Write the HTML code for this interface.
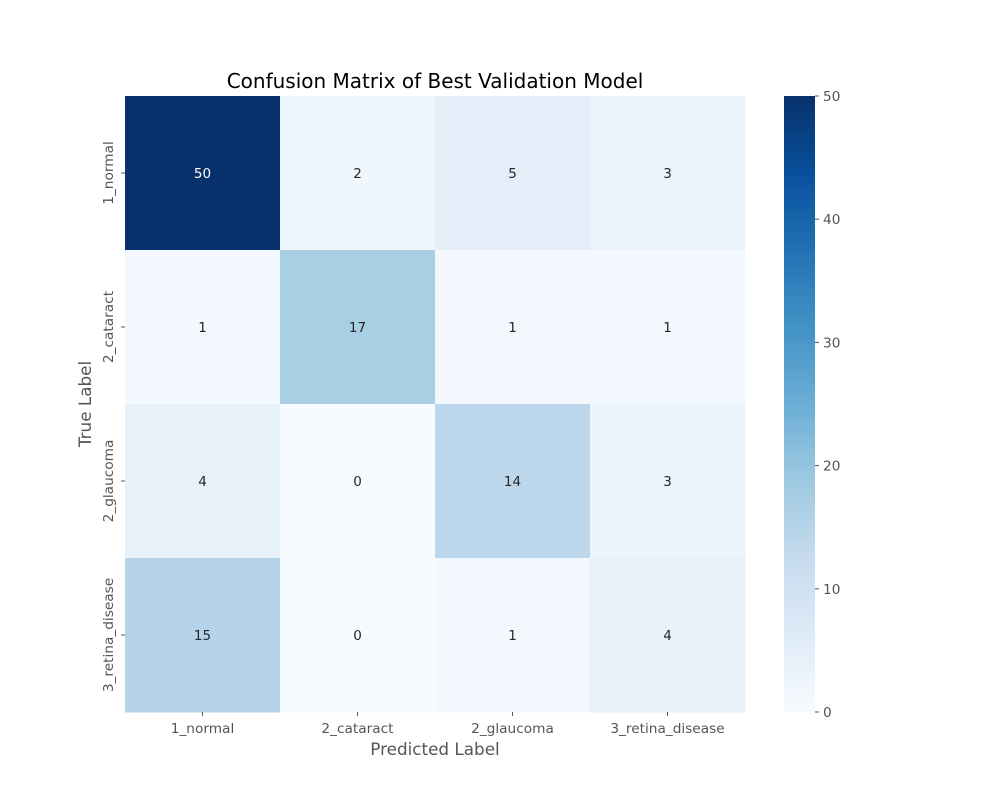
<!DOCTYPE html>
<html><head><meta charset="utf-8"><style>
body{margin:0;background:#fff;}
svg{display:block;font-family:"DejaVu Sans","Liberation Sans",sans-serif;}
</style></head><body>
<svg id="chart" width="1000" height="800">
<text x="435" y="88" text-anchor="middle" font-size="20" fill="#000">Confusion Matrix of Best Validation Model</text>
<text x="435" y="755" text-anchor="middle" font-size="16.8" fill="#555">Predicted Label</text>
<text transform="translate(91,404) rotate(-90)" text-anchor="middle" font-size="16.8" fill="#555">True Label</text>
<defs><linearGradient id="cb" x1="0" y1="1" x2="0" y2="0">
<stop offset="0" stop-color="#f7fbff"/><stop offset="0.125" stop-color="#deebf7"/><stop offset="0.25" stop-color="#c6dbef"/><stop offset="0.375" stop-color="#9ecae1"/><stop offset="0.5" stop-color="#6baed6"/><stop offset="0.625" stop-color="#4292c6"/><stop offset="0.75" stop-color="#2171b5"/><stop offset="0.875" stop-color="#08519c"/><stop offset="1" stop-color="#08306b"/>
</linearGradient></defs>
<rect x="784" y="96" width="31" height="616" fill="url(#cb)"/>
<g id="cells"></g><g id="ticks"></g>
</svg>
<script>
const categories=["1_normal","2_cataract","2_glaucoma","3_retina_disease"];
const row0=[50,2,5,3];
const row1=[1,17,1,1];
const row2=[4,0,14,3];
const row3=[15,0,1,4];
const matrix=[row0,row1,row2,row3];
const cbTicks=[0,10,20,30,40,50];
const vmin=0,vmax=50;
const X0=125,X1=745,Y0=96,Y1=712;
const stops=["#f7fbff","#deebf7","#c6dbef","#9ecae1","#6baed6","#4292c6","#2171b5","#08519c","#08306b"].map(h=>[1,3,5].map(i=>parseInt(h.substr(i,2),16)));
function color(v){let t=Math.max(0,Math.min(1,(v-vmin)/(vmax-vmin)))*8;let i=Math.min(7,Math.floor(t)),f=t-i;const c=stops[i].map((a,k)=>a+(stops[i+1][k]-a)*f);return c;}
const n=categories.length,cw=(X1-X0)/n,ch=(Y1-Y0)/n;
const xs=i=>X0+i*cw, ys=j=>Y0+j*ch;
const cbY=v=>Y1-(v-vmin)/(vmax-vmin)*(Y1-Y0);
const NS="http://www.w3.org/2000/svg";
const g=document.getElementById('cells'),tg=document.getElementById('ticks');
function mk(tag,attrs,par,txt){const e=document.createElementNS(NS,tag);for(const k in attrs)e.setAttribute(k,attrs[k]);if(txt!==undefined)e.textContent=txt;par.appendChild(e);return e;}
matrix.forEach((row,j)=>row.forEach((v,i)=>{
  const c=color(v);
  const r=mk('rect',{x:xs(i),y:ys(j),width:cw+0.5,height:ch+0.5,fill:`rgb(${c.map(Math.round).join(',')})`},g);
  
  
  const lum=(0.299*c[0]+0.587*c[1]+0.114*c[2])/255;
  const t=mk('text',{x:xs(i)+cw/2,y:ys(j)+ch/2+5,'text-anchor':'middle','font-size':13.5,fill:lum<0.5?'#fff':'#262626'},g,String(v));
  
  
}));
categories.forEach((c,i)=>{
  const cx=xs(i)+cw/2;
  mk('line',{x1:cx,x2:cx,y1:Y1,y2:Y1+4,stroke:'#555'},tg);
  const t=mk('text',{x:cx,y:Y1+21,'text-anchor':'middle','font-size':13.7,fill:'#555'},tg,c);
  
  
  const cy=ys(i)+ch/2;
  mk('line',{x1:X0-4,x2:X0,y1:cy,y2:cy,stroke:'#555'},tg);
  const u=mk('text',{transform:`translate(${X0-12},${cy}) rotate(-90)`,'text-anchor':'middle','font-size':13.7,fill:'#555'},tg,c);
  
  
});
cbTicks.forEach(v=>{
  const y=cbY(v);
  mk('line',{x1:815,x2:819,y1:y,y2:y,stroke:'#555'},tg);
  const t=mk('text',{x:823,y:y+5,'font-size':13.7,fill:'#555'},tg,String(v));
  
  
});
</script>
</body></html>
